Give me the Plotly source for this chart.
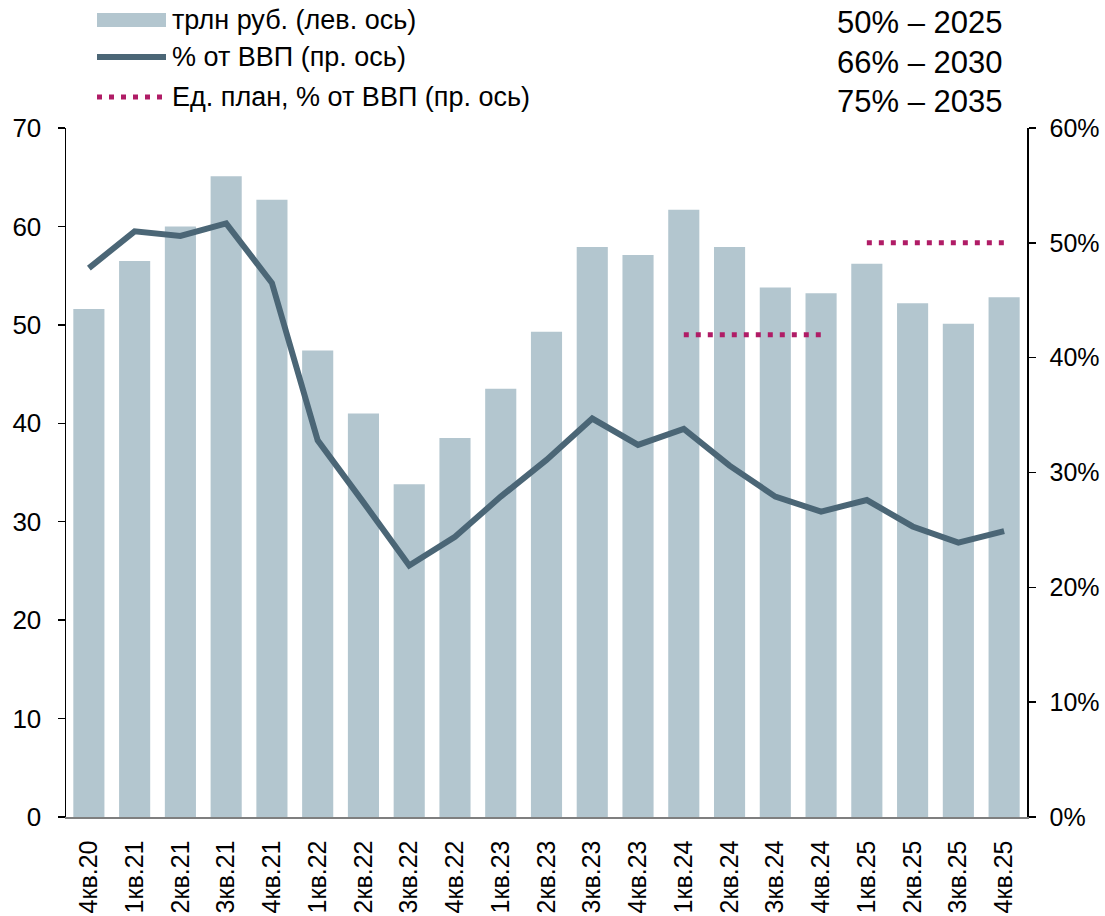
import plotly.graph_objects as go

categories = ["4кв.20", "1кв.21", "2кв.21", "3кв.21", "4кв.21", "1кв.22", "2кв.22", "3кв.22",
              "4кв.22", "1кв.23", "2кв.23", "3кв.23", "4кв.23", "1кв.24", "2кв.24", "3кв.24",
              "4кв.24", "1кв.25", "2кв.25", "3кв.25", "4кв.25"]
trln_rub = [51.6, 56.5, 60.0, 65.1, 62.7, 47.4, 41.0, 33.8, 38.5, 43.5, 49.3, 57.9,
            57.1, 61.7, 57.9, 53.8, 53.2, 56.2, 52.2, 50.1, 52.8]
pct_gdp = [47.8, 51.0, 50.6, 51.7, 46.5, 32.8, 27.4, 21.9, 24.4, 27.9, 31.1, 34.7,
           32.4, 33.8, 30.6, 27.9, 26.6, 27.6, 25.3, 23.9, 24.9]
plan_2024_x = ["1кв.24", "2кв.24", "3кв.24", "4кв.24"]
plan_2024 = [42, 42, 42, 42]
plan_2025_x = ["1кв.25", "2кв.25", "3кв.25", "4кв.25"]
plan_2025 = [50, 50, 50, 50]
legend_labels = ["трлн руб. (лев. ось)", "% от ВВП (пр. ось)", "Ед. план, % от ВВП (пр. ось)"]
targets = ["50% – 2025", "66% – 2030", "75% – 2035"]

BAR = "#b3c6cf"
LINE = "#4b6676"
DOT = "#b01c66"
FONT = "Liberation Sans, Arial, sans-serif"

W, H = 1105, 916
# target plot area in screen pixels: x 66..1027, y 128..817
SX0, SX1, SY0, SY1 = 66, 1027, 128, 817
L, R, T, B = SX0, W - SX1, SY0, H - SY1
pw, ph = SX1 - SX0, SY1 - SY0

def px_x(px):
    return (px - SX0) / pw

def px_y(py):
    return (SY1 - py) / ph

fig = go.Figure()
fig.add_trace(go.Bar(x=categories, y=trln_rub, marker=dict(color=BAR, line=dict(width=0)),
                     name=legend_labels[0], yaxis="y"))
fig.add_trace(go.Scatter(x=categories, y=pct_gdp, mode="lines", name=legend_labels[1],
                         line=dict(color=LINE, width=6), yaxis="y2"))
for xs, ys in ((plan_2024_x, plan_2024), (plan_2025_x, plan_2025)):
    fig.add_trace(go.Scatter(x=xs, y=ys, mode="lines", name=legend_labels[2],
                             line=dict(color=DOT, width=5, dash="5px,7px"), yaxis="y2"))

shapes = [
    dict(type="rect", xref="paper", yref="paper", x0=px_x(97), x1=px_x(166),
         y0=px_y(27), y1=px_y(13), fillcolor=BAR, line=dict(width=0)),
    dict(type="line", xref="paper", yref="paper", x0=px_x(97), x1=px_x(166),
         y0=px_y(57), y1=px_y(57), line=dict(color=LINE, width=6)),
    dict(type="line", xref="paper", yref="paper", x0=px_x(97), x1=px_x(166),
         y0=px_y(97), y1=px_y(97), line=dict(color=DOT, width=5, dash="5px,7px")),
]
annotations = []
for lab, yy in zip(legend_labels, [20, 57, 97]):
    annotations.append(dict(xref="paper", yref="paper", x=px_x(170), y=px_y(yy), text=lab,
                            showarrow=False, xanchor="left", yanchor="middle",
                            font=dict(family=FONT, size=27, color="#000")))
for lab, yy in zip(targets, [22, 62, 101]):
    annotations.append(dict(xref="paper", yref="paper", x=px_x(1004), y=px_y(yy), text=lab,
                            showarrow=False, xanchor="right", yanchor="middle",
                            font=dict(family=FONT, size=31, color="#000")))

fig.update_layout(
    width=W, height=H,
    margin=dict(l=L, r=R, t=T, b=B, pad=0, autoexpand=False),
    paper_bgcolor="white", plot_bgcolor="white",
    showlegend=False,
    bargap=0.32,
    font=dict(family=FONT, size=25, color="#000"),
    xaxis=dict(type="category", tickangle=-90, showgrid=False, showline=True,
               linecolor="#7f7f7f", linewidth=1.5, ticks="", tickfont=dict(size=25),
               ticklabelstandoff=12, range=[-0.5, len(categories) - 0.5]),
    yaxis=dict(range=[0, 70], dtick=10, showgrid=False, zeroline=False, showline=True,
               linecolor="#000", linewidth=1.5, ticks="outside", ticklen=7,
               tickcolor="#000", tickwidth=1.5, tickfont=dict(size=26),
               ticklabelstandoff=11),
    yaxis2=dict(range=[0, 60], dtick=10, overlaying="y", side="right", showgrid=False,
                zeroline=False, showline=True, linecolor="#000", linewidth=1.5,
                ticks="outside", ticklen=7, tickcolor="#000", tickwidth=1.5,
                ticksuffix="%", tickfont=dict(size=25), ticklabelstandoff=9),
    shapes=shapes,
    annotations=annotations,
)

fig.write_html("out.html", config={"displayModeBar": False, "staticPlot": True},
               post_script="document.body.style.margin='0px';document.body.style.overflow='hidden';")
